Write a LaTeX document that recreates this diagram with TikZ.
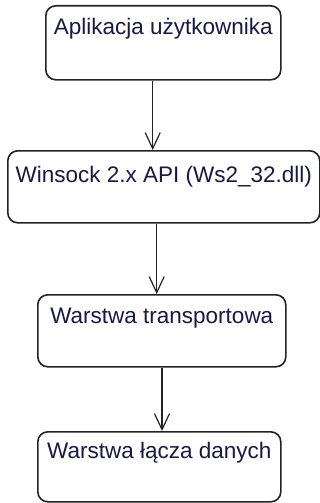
\documentclass[tikz,border=0pt]{standalone}
\usepackage{fontspec}
\setmainfont{Liberation Sans}
\usetikzlibrary{arrows.meta}
\definecolor{labelink}{RGB}{22,24,70}
\definecolor{edge}{RGB}{35,35,35}
\begin{document}
\begin{tikzpicture}[x=1pt,y=-1pt,
  layerbox/.style={draw=edge, line width=1.6pt, rounded corners=10pt,
    inner sep=0pt, anchor=north west, text=labelink,
    font=\fontsize{22.5}{26}\selectfont},
  flow/.style={draw=edge, line width=1.5pt,
    -{Straight Barb[length=16pt,width=15pt,line width=1.2pt]}}]
  \useasboundingbox (0,0) rectangle (320,503);

  % the four layers, top to bottom
  \node[layerbox, minimum width=235pt, text height=29pt, text depth=45pt]
    (app) at (45,5) {Aplikacja użytkownika};
  \node[layerbox, minimum width=312pt, text height=32pt, text depth=40pt]
    (api) at (7,150) {Winsock 2.x API (Ws2\_32.dll)};
  \node[layerbox, minimum width=248pt, text height=29pt, text depth=43pt]
    (trans) at (37,294) {Warstwa transportowa};
  \node[layerbox, minimum width=243pt, text height=27pt, text depth=43pt]
    (link) at (37,431) {Warstwa łącza danych};

  % horizontal positions of the connectors
  \coordinate (c1) at (152.7,0);
  \coordinate (c2) at (156.7,0);
  \coordinate (c3) at (162,0);

  \draw[flow] (app.south -| c1) -- (api.north -| c1);
  \draw[flow] (api.south -| c2) -- (trans.north -| c2);
  \draw[flow] (trans.south -| c3) -- (link.north -| c3);
\end{tikzpicture}
\end{document}
